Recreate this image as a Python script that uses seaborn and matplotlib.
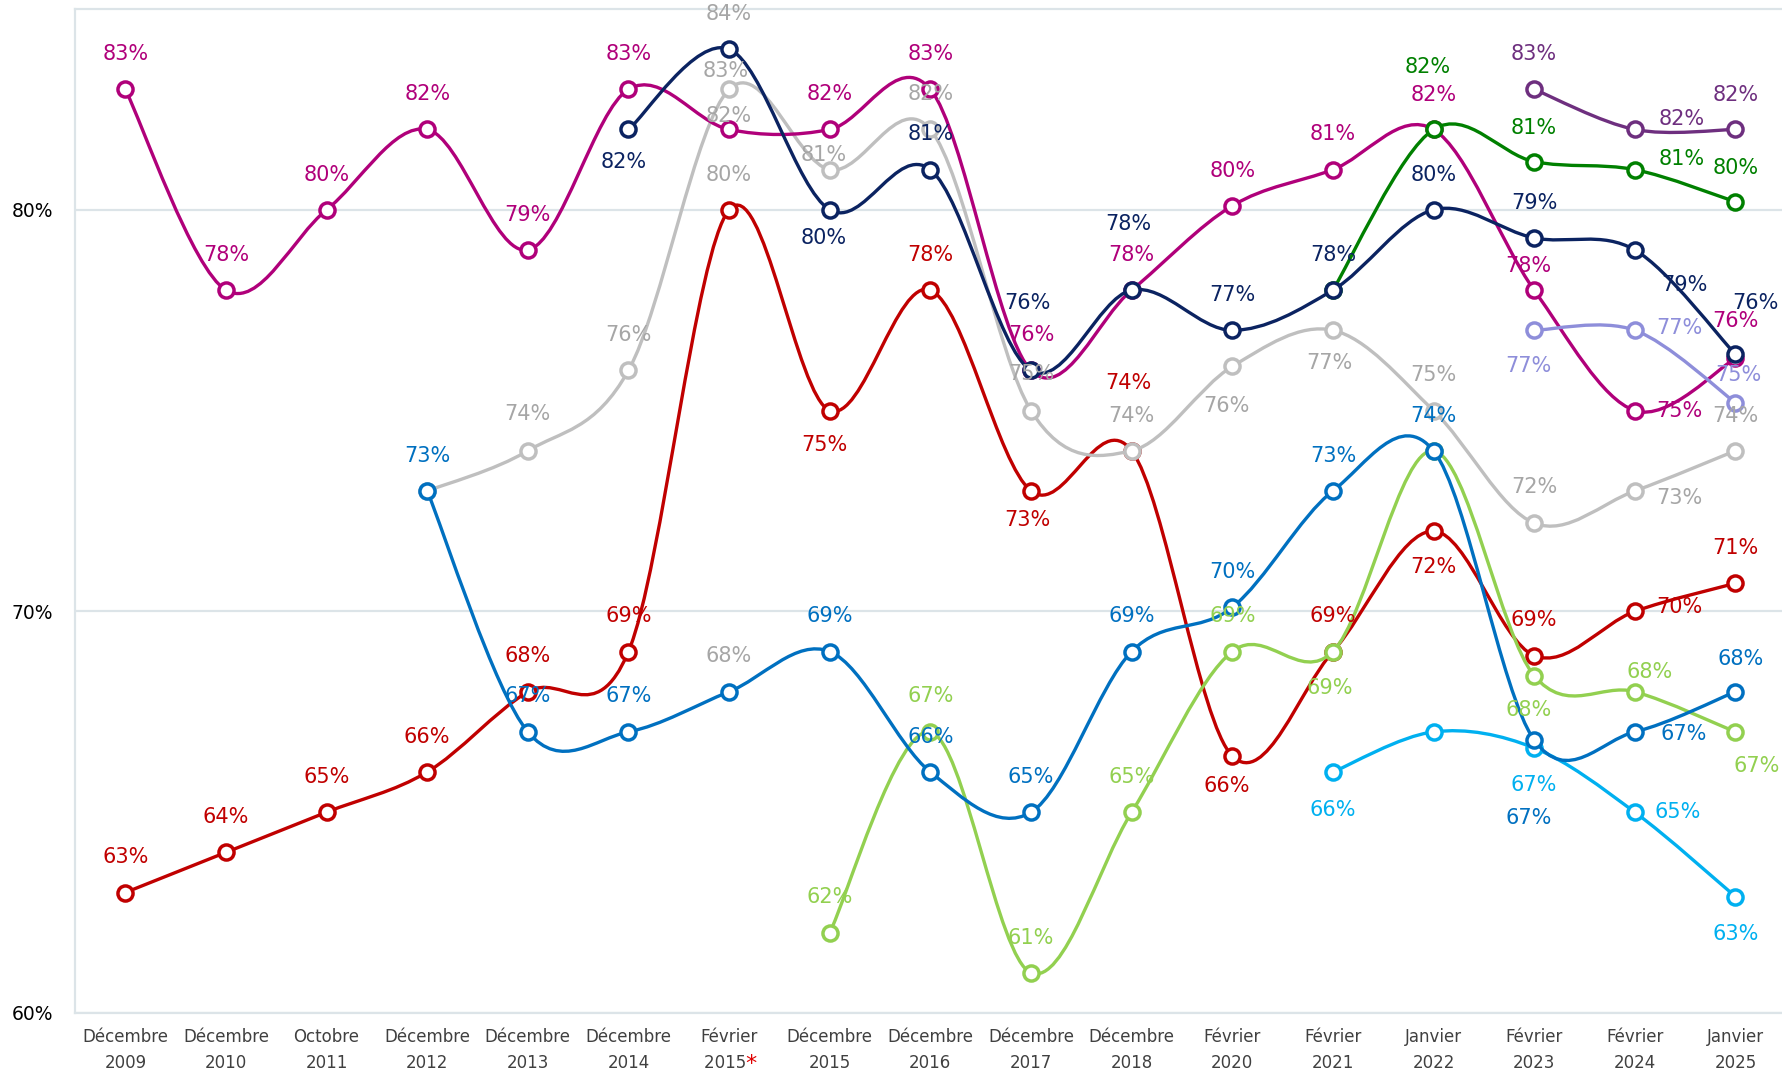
import numpy as np
import matplotlib
matplotlib.use("Agg")
import matplotlib.pyplot as plt
from matplotlib.path import Path
from matplotlib.patches import PathPatch
import seaborn as sns

nan = np.nan

# Survey waves (x axis)
periods = [
    "Décembre\n2009", "Décembre\n2010", "Octobre\n2011", "Décembre\n2012",
    "Décembre\n2013", "Décembre\n2014", "Février\n2015\u2002", "Décembre\n2015",
    "Décembre\n2016", "Décembre\n2017", "Décembre\n2018", "Février\n2020",
    "Février\n2021", "Janvier\n2022", "Février\n2023", "Février\n2024",
    "Janvier\n2025",
]

# Shares (%) per series, one value per wave (nan = not asked)
red_vals = [63, 64, 65, 66, 68, 69, 80, 75, 78, 73, 74, 66.4, 69, 72, 68.9, 70, 70.7]
grey_vals = [nan, nan, nan, 73, 74, 76, 83, 81, 82, 75, 74, 76.1, 77, 75, 72.2, 73, 74]
magenta_vals = [83, 78, 80, 82, 79, 83, 82, 82, 83, 76, 78, 80.1, 81, 82, 78, 75, 76.3]
light_green_vals = [nan] * 7 + [62, 67, 61, 65, 69, 69, 74, 68.4, 68, 67]
sky_vals = [nan] * 12 + [66, 67, 66.6, 65, 62.9]
dark_green_vals = [nan] * 12 + [78, 82, 81.2, 81, 80.2]
navy_vals = [nan] * 5 + [82, 84, 80, 81, 76, 78, 77, 78, 80, 79.3, 79, 76.4]
blue_vals = [nan] * 3 + [73, 67, 67, 68, 69, 66, 65, 69, 70.1, 73, 74, 66.8, 67, 68]
purple_vals = [nan] * 14 + [83, 82, 82]
lavender_vals = [nan] * 14 + [77, 77, 75.2]

y_ticks = [60, 70, 80]
y_tick_labels = ["60%", "70%", "80%"]

# Drawing order (bottom to top), colours and data-label offsets (px; None = no label)
A = (0, -31)
series = [
    ("red", red_vals, "#C00000",
     [A, A, A, A, A, A, A, (-5, 30), A, (-3, 26), (-3, -60), (-5, 26), A, (0, 32), A, (39, -4), A]),
    ("grey", grey_vals, "#BFBFBF",
     [None] * 4 + [(0, -32), A, (-3, -16), (-5, -13), A, (0, -32), A, (-5, 35), (-3, 29), A, (0, -32), (39, 6), A]),
    ("magenta", magenta_vals, "#B0007A",
     [A, A, A, A, A, A, (0, -12), A, A, A, A, A, A, (0, -30), (-5, -21), (39, 0), (0, -33)]),
    ("light_green", light_green_vals, "#92D050",
     [None] * 7 + [A, (0, -32), A, A, A, (-3, 32), None, (-5, 30), (13, -17), (19, 30)]),
    ("sky", sky_vals, "#00B0F0",
     [None] * 12 + [(0, 33), None, (0, 33), (38, 0), (0, 33)]),
    ("dark_green", dark_green_vals, "#008000",
     [None] * 13 + [(-5, -55), (0, -30), (41, -9), (0, -30)]),
    ("navy", navy_vals, "#0B2361",
     [None] * 5 + [(-4, 29), A, (-5, 25), A, (-3, -59), (-3, -58), A, A, A, A, (44, 31), (18, -45)]),
    ("blue", blue_vals, "#0070C0",
     [None] * 3 + [A, (0, -32), (0, -32), A, A, A, A, A, A, A, A, (-5, 69), (43, 2), (5, -29)]),
    ("purple", purple_vals, "#6E2F7F",
     [None] * 14 + [A, (41, -9), (0, -30)]),
    ("lavender", lavender_vals, "#8E8EDA",
     [None] * 14 + [(-5, 31), (39, -2), (3, -24)]),
]

label_colours = {"grey": "#A6A6A6"}
special_wave = 6          # Février 2015*: labels shown in grey
special_colour = "#A6A6A6"
grid_colour = "#DCE4E8"

sns.set_style("white")
plt.rcParams["font.family"] = ["DejaVu Sans"]

W, H = 1782, 1072
fig = plt.figure(figsize=(W / 100, H / 100), dpi=100)
left_px, top_px, bottom_px = 75, 9, 1013
ax = fig.add_axes([left_px / W, 1 - bottom_px / H, 1 - left_px / W, (bottom_px - top_px) / H])

PX2PT = 1.1365 * 72 / 100  # offsets given in display px -> points


def smooth_path(xs, ys):
    pts = np.column_stack([xs, ys]).astype(float)
    n = len(pts)
    verts, codes = [pts[0]], [Path.MOVETO]
    for i in range(n - 1):
        p0 = pts[i - 1] if i > 0 else pts[i]
        p1, p2 = pts[i], pts[i + 1]
        p3 = pts[i + 2] if i + 2 < n else pts[i + 1]
        verts += [p1 + (p2 - p0) / 6, p2 - (p3 - p1) / 6, p2]
        codes += [Path.CURVE4] * 3
    return Path(verts, codes)


x_all = np.arange(len(periods))
for k, (name, vals, colour, offsets) in enumerate(series):
    v = np.array(vals, dtype=float)
    m = ~np.isnan(v)
    xs, ys = x_all[m], v[m]
    z = 3 + k * 0.1
    ax.add_patch(PathPatch(smooth_path(xs, ys), fill=False, edgecolor=colour,
                           lw=2.4, capstyle="round", joinstyle="round", zorder=z))
    sns.scatterplot(x=xs, y=ys, ax=ax, s=118, color="white", edgecolor=colour,
                    linewidth=2.5, zorder=z + 0.05, legend=False)
    for xi, yi in zip(xs, ys):
        off = offsets[xi]
        if off is None:
            continue
        tc = special_colour if xi == special_wave else label_colours.get(name, colour)
        ax.annotate(f"{int(round(yi))}%", xy=(xi, yi),
                    xytext=(off[0] * PX2PT, -off[1] * PX2PT), textcoords="offset points",
                    ha="center", va="center", fontsize=15, color=tc, zorder=10)

ax.set_xlim(-0.5, (W - 125) / 100.65)
ax.set_ylim(60, 85)
ax.set_xticks(x_all, periods)
ax.set_yticks(y_ticks, y_tick_labels)
ax.tick_params(axis="x", length=0, pad=11, labelsize=12, labelcolor="#404040")
for t in ax.get_xticklabels():
    t.set_linespacing(1.55)
ax.tick_params(axis="y", length=7, width=1.5, color=grid_colour, pad=9,
               labelsize=13.5, labelcolor="black")
ax.yaxis.grid(True, color=grid_colour, lw=1.6, zorder=0)
ax.set_axisbelow(True)
for side in ["left", "bottom", "top"]:
    ax.spines[side].set_color(grid_colour)
    ax.spines[side].set_linewidth(1.6)
ax.spines["right"].set_visible(False)

# red asterisk after "2015"
ax.annotate("*", xy=(special_wave, 0), xycoords=("data", "axes fraction"),
            xytext=(12.0, -41.0), textcoords="offset points", ha="left", va="baseline",
            fontsize=16, color="#E00000", annotation_clip=False)

fig.savefig("out.png", dpi=100)
